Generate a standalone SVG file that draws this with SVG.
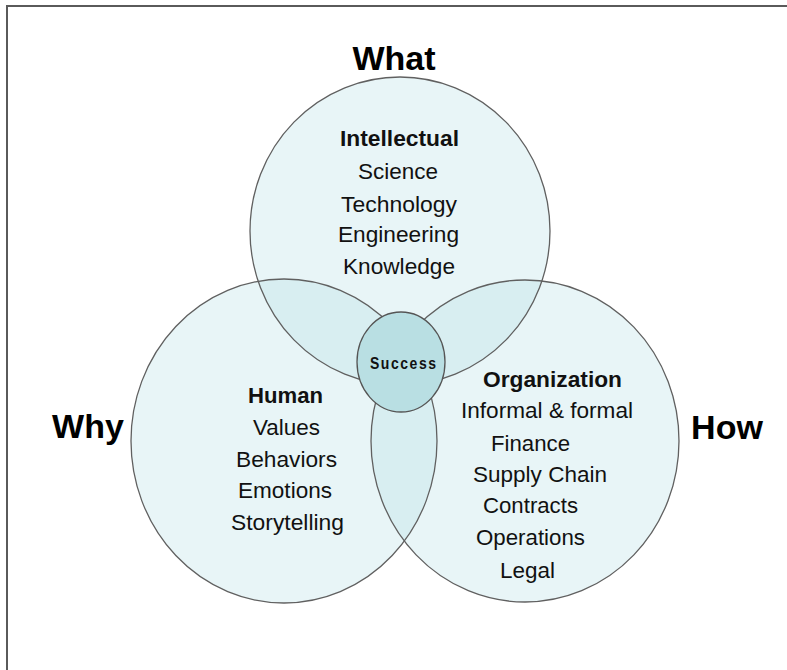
<svg xmlns="http://www.w3.org/2000/svg" width="787" height="670" viewBox="0 0 787 670">
<style>
.fill{fill:#b2dee4;fill-opacity:0.3;stroke:none}
.ring{fill:none;stroke:#606060;stroke-width:1.3}
.t{font-family:"Liberation Sans",Arial,sans-serif;font-size:22.5px;fill:#111}
.b{font-weight:bold}
.big{font-family:"Liberation Sans",Arial,sans-serif;font-size:34px;font-weight:bold;fill:#000}
</style>
<rect x="7" y="6" width="800" height="700" fill="#fff" stroke="#5a5a5a" stroke-width="2"/>
<g id="circle-what">
<ellipse class="fill" cx="400" cy="231" rx="150" ry="154"/>
</g>
<g id="circle-why">
<ellipse class="fill" cx="284" cy="441" rx="153" ry="162"/>
</g>
<g id="circle-how">
<ellipse class="fill" cx="525" cy="441" rx="154" ry="161"/>
</g>
<g id="outlines">
<ellipse class="ring" cx="400" cy="231" rx="150" ry="154"/>
<ellipse class="ring" cx="284" cy="441" rx="153" ry="162"/>
<ellipse class="ring" cx="525" cy="441" rx="154" ry="161"/>
</g>
<g id="success">
<ellipse cx="401" cy="362" rx="44" ry="50" fill="#b9dfe3" stroke="#555" stroke-width="1.3"/>
<text transform="translate(403,369) scale(1,1.2)" text-anchor="middle" font-family="Liberation Sans, Arial, sans-serif" font-size="14" font-weight="bold" fill="#111" textLength="66" lengthAdjust="spacing">Success</text>
</g>
<g id="label-what"><text class="big" x="394" y="70" text-anchor="middle">What</text></g>
<g id="label-why"><text class="big" x="88" y="438" text-anchor="middle">Why</text></g>
<g id="label-how"><text class="big" x="727" y="439" text-anchor="middle">How</text></g>
<g id="text-intellectual">
<text class="t b" x="340" y="146" textLength="119" lengthAdjust="spacingAndGlyphs">Intellectual</text>
<text class="t" x="358" y="179" textLength="80" lengthAdjust="spacingAndGlyphs">Science</text>
<text class="t" x="341" y="212" textLength="116" lengthAdjust="spacingAndGlyphs">Technology</text>
<text class="t" x="338" y="242" textLength="121" lengthAdjust="spacingAndGlyphs">Engineering</text>
<text class="t" x="343" y="274" textLength="112" lengthAdjust="spacingAndGlyphs">Knowledge</text>
</g>
<g id="text-human">
<text class="t b" x="248" y="403" textLength="75" lengthAdjust="spacingAndGlyphs">Human</text>
<text class="t" x="253" y="435" textLength="67" lengthAdjust="spacingAndGlyphs">Values</text>
<text class="t" x="236" y="467" textLength="101" lengthAdjust="spacingAndGlyphs">Behaviors</text>
<text class="t" x="238" y="498" textLength="94" lengthAdjust="spacingAndGlyphs">Emotions</text>
<text class="t" x="231" y="530" textLength="113" lengthAdjust="spacingAndGlyphs">Storytelling</text>
</g>
<g id="text-organization">
<text class="t b" x="483" y="387" textLength="139" lengthAdjust="spacingAndGlyphs">Organization</text>
<text class="t" x="461" y="418" textLength="172" lengthAdjust="spacingAndGlyphs">Informal &amp; formal</text>
<text class="t" x="491" y="451" textLength="79" lengthAdjust="spacingAndGlyphs">Finance</text>
<text class="t" x="473" y="482" textLength="134" lengthAdjust="spacingAndGlyphs">Supply Chain</text>
<text class="t" x="483" y="513" textLength="95" lengthAdjust="spacingAndGlyphs">Contracts</text>
<text class="t" x="476" y="545" textLength="109" lengthAdjust="spacingAndGlyphs">Operations</text>
<text class="t" x="500" y="578" textLength="55" lengthAdjust="spacingAndGlyphs">Legal</text>
</g>
</svg>
